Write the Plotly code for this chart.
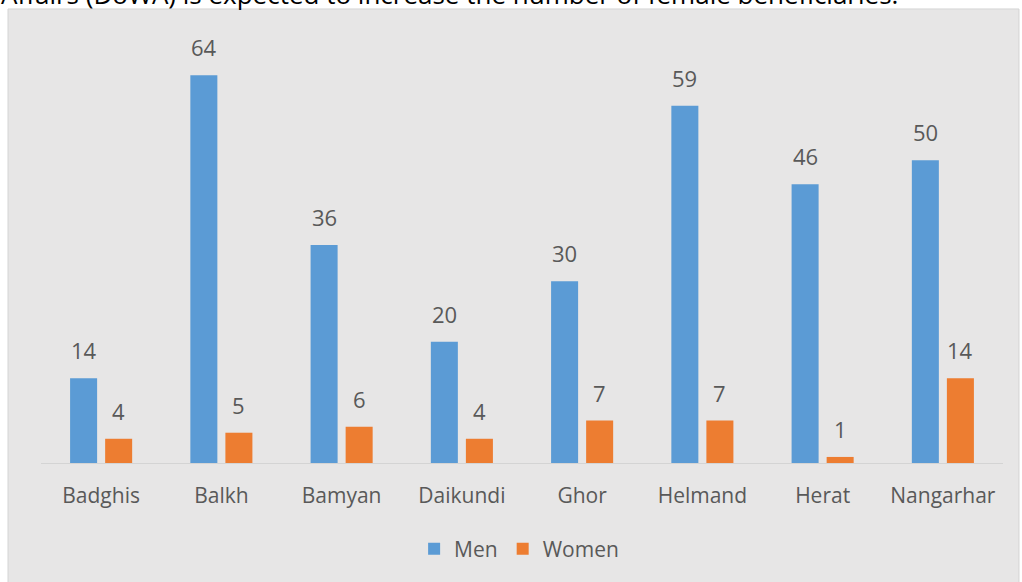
import plotly.graph_objects as go

provinces = ["Badghis", "Balkh", "Bamyan", "Daikundi", "Ghor", "Helmand", "Herat", "Nangarhar"]
men = [14, 64, 36, 20, 30, 59, 46, 50]
women = [4, 5, 6, 4, 7, 7, 1, 14]

BLUE = "#5b9bd5"
ORANGE = "#ed7d31"
TEXT = "#595959"
FONT = "Open Sans"

fig = go.Figure()
fig.add_trace(go.Bar(name="Men", x=provinces, y=men, marker=dict(color=BLUE, line=dict(width=0))))
fig.add_trace(go.Bar(name="Women", x=provinces, y=women, marker=dict(color=ORANGE, line=dict(width=0))))

# value labels above each bar
for series, shift in ((men, -17.5), (women, 17.5)):
    for cat, val in zip(provinces, series):
        fig.add_annotation(x=cat, y=val, xref="x", yref="y", text=str(val), showarrow=False,
                           xshift=shift, yshift=11, yanchor="bottom",
                           font=dict(family=FONT, size=22, color=TEXT))

# grey chart panel behind the plot
fig.add_shape(type="rect", xref="paper", yref="paper", x0=-0.0343, x1=1.0166, y0=-0.30, y1=1.0708,
              fillcolor="#e7e6e6", line=dict(color="#d4d4d4", width=1), layer="below")

# sentence from the surrounding text, cut by the top edge
fig.add_annotation(xref="paper", yref="paper", x=-0.044, y=1.058, xanchor="left", yanchor="bottom",
                   text="Affairs (DoWA) is expected to increase the number of female beneficiaries.",
                   showarrow=False, font=dict(family=FONT, size=26, color="#000000"))

fig.update_layout(
    width=1022, height=582,
    margin=dict(l=41, r=19, t=39, b=119),
    paper_bgcolor="white", plot_bgcolor="rgba(0,0,0,0)",
    barmode="group", bargap=0.417, bargroupgap=0.229,
    font=dict(family=FONT, color=TEXT),
    legend=dict(orientation="h", x=0.497, xanchor="center", y=-0.203, yanchor="middle",
                font=dict(family=FONT, size=21, color=TEXT), itemwidth=30,
                bgcolor="rgba(0,0,0,0)"),
    xaxis=dict(showline=True, linecolor="#d4d4d4", linewidth=1, ticks="", showgrid=False,
               tickfont=dict(family=FONT, size=21, color=TEXT), ticklabelstandoff=14),
    yaxis=dict(range=[0, 70], visible=False, showgrid=False),
)

fig.write_html("out.html")
